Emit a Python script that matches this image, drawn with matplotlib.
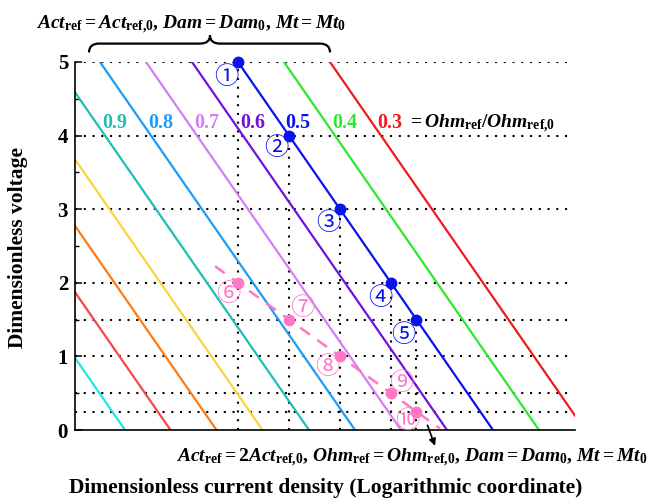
import numpy as np
import matplotlib
matplotlib.use("Agg")
import matplotlib.pyplot as plt
from matplotlib.path import Path
from matplotlib.patches import PathPatch

plt.rcParams['font.family'] = ['Liberation Serif']
plt.rcParams['font.weight'] = 'bold'
plt.rcParams['mathtext.fontset'] = 'custom'
plt.rcParams['mathtext.rm'] = 'Liberation Serif:bold'
plt.rcParams['mathtext.it'] = 'Liberation Serif:italic:bold'
plt.rcParams['mathtext.bf'] = 'Liberation Serif:bold'

# polarization lines: x position (log current density) where voltage reaches 0
line_x0 = [1.0, 1.91, 2.83, 3.75, 4.68, 5.6, 6.52, 7.44, 8.36, 9.28, 10.2]
line_colors = ['#1EE6E6', '#F5474A', '#FF7A12', '#FFD23C', '#1DBFB2', '#1E9BF5',
               '#D67CF7', '#7410DC', '#0A12EE', '#2EE82E', '#F21A1A']
ohm_ratio = ['', '', '', '', '0.9', '0.8', '0.7', '0.6', '0.5', '0.4', '0.3']
slope = 1.02  # x shift per unit voltage

blue_v = [5, 4, 3, 2, 1.5]
pink_v = [2, 1.5, 1, 0.5, 0.25]
grid_v = [5, 4, 3, 2, 1.5, 1, 0.5, 0.25]
blue_tags = ['①', '②', '③', '④', '⑤']
pink_tags = ['⑥', '⑦', '⑧', '⑨', '⑩']

BLUE = '#0A12EE'
PINK = '#FF77C6'

fig = plt.figure(figsize=(6.5, 4.99), dpi=100)
ax = fig.add_axes([75/650, 69/499, 500/650, 368/499])
ax.set_xlim(0, 10)
ax.set_ylim(0, 5)

dots = (0, (1, 3.2))
ax.hlines(grid_v, 0, 9.86, colors='k', linestyles=dots, lw=1.5, zorder=1)

# x positions of the operating points on the 0.5 line
pt_x = line_x0[8] - slope * np.array(blue_v)
ax.vlines(pt_x, 0, blue_v, colors='k', linestyles=dots, lw=1.5, zorder=1)

vv = np.array([-1.0, 6.0])
for x0, c in zip(line_x0, line_colors):
    ax.plot(x0 - slope * vv, vv, color=c, lw=1.6, zorder=2)

for x0, c, lab in zip(line_x0, line_colors, ohm_ratio):
    if lab:
        ax.text(x0 - slope * 4.2 + 0.39, 4.11, lab, color=c, fontsize=14.5,
                ha='center', va='baseline', fontweight='bold')
ax.text(6.64, 4.11, r'$= Ohm_{\rm ref}/Ohm_{\rm ref{,}0}$', fontsize=14,
        ha='left', va='baseline')

# pink dashed trend through the second set of points
s0 = (pink_v[1] - pink_v[0]) / (pt_x[1] - pt_x[0])
s1 = (pink_v[-1] - pink_v[-2]) / (pt_x[-1] - pt_x[-2])
dash_x = np.concatenate([[2.8], pt_x, [7.3]])
dash_v = np.concatenate([[pink_v[0] + s0 * (2.8 - pt_x[0])], pink_v,
                         [pink_v[-1] + s1 * (7.3 - pt_x[-1])]])
ax.plot(dash_x, dash_v, color=PINK, lw=1.8, dashes=(4.8, 3.6), zorder=3)

ax.plot(pt_x, blue_v, 'o', color=BLUE, ms=7.5, clip_on=False, zorder=5)
ax.plot(pt_x, pink_v, 'o', color=PINK, ms=7.5, clip_on=False, zorder=5)

blue_off = [(-12, -15), (-13, -12), (-12, -14), (-11, -15), (-13, -15)]
pink_off = [(-10, -11), (13, 12), (-13, -11), (10, 10), (-9, -9)]
cjk = ['Noto Sans CJK JP', 'DejaVu Sans']
for x, v, t, o in zip(pt_x, blue_v, blue_tags, blue_off):
    ax.annotate(t, (x, v), xytext=o, textcoords='offset pixels', ha='center',
                va='center', fontsize=17.5, color=BLUE, family=cjk,
                fontweight='normal', annotation_clip=False)
for x, v, t, o in zip(pt_x, pink_v, pink_tags, pink_off):
    ax.annotate(t, (x, v), xytext=o, textcoords='offset pixels', ha='center',
                va='center', fontsize=17.5, color=PINK, family=cjk,
                fontweight='normal', annotation_clip=False)

# arrow to the bottom condition text
ax.annotate('', xy=(7.22, -0.25), xytext=(7.03, 0.1),
            arrowprops=dict(arrowstyle='-|>', color='k', lw=1.2, mutation_scale=10),
            annotation_clip=False)

# curly brace over the top
xl, xr, xm, r = 0.28, 5.1, 2.7, 0.2
yb, yc, yt = 5.13, 5.25, 5.36
verts = [(xl, yb), (xl, yc), (xl + r, yc), (xm - r, yc), (xm, yc), (xm, yt),
         (xm, yc), (xm + r, yc), (xr - r, yc), (xr, yc), (xr, yb)]
codes = [Path.MOVETO, Path.CURVE3, Path.CURVE3, Path.LINETO, Path.CURVE3, Path.CURVE3,
         Path.CURVE3, Path.CURVE3, Path.LINETO, Path.CURVE3, Path.CURVE3]
ax.add_patch(PathPatch(Path(verts, codes), fill=False, lw=1.6, color='k', clip_on=False))

for s in ['top', 'right']:
    ax.spines[s].set_visible(False)
for s in ['left', 'bottom']:
    ax.spines[s].set_linewidth(1.2)
ax.set_xticks([])
ax.set_yticks(range(6))
ax.set_yticks(np.arange(0.5, 5, 1), minor=True)
ax.tick_params(axis='y', which='major', direction='in', length=5, width=1.1,
               labelsize=15, pad=5)
ax.tick_params(axis='y', which='minor', direction='in', length=3, width=1.0)
for lab in ax.get_yticklabels():
    lab.set_fontweight('bold')

fig.text(36/650, 1 - 29/499,
         r'$Act_{\rm ref} = Act_{\rm ref{,}0}{,}\ Dam = Dam_0{,}\ Mt = Mt_0$',
         fontsize=14, ha='left', va='baseline')
fig.text(648/650, 37/499,
         r'$Act_{\rm ref} = 2Act_{\rm ref{,}0}{,}\ Ohm_{\rm ref} = Ohm_{\rm ref{,}0}{,}\ Dam = Dam_0{,}\ Mt = Mt_0$',
         fontsize=14, ha='right', va='baseline')
fig.text(326/650, 11/499, 'Dimensionless current density (Logarithmic coordinate)',
         fontsize=15.5, fontweight='bold', ha='center', va='center')
fig.text(18/650, 251/499, 'Dimensionless voltage', fontsize=15.5, fontweight='bold',
         rotation=90, ha='center', va='center')

fig.savefig('out.png', dpi=100)
